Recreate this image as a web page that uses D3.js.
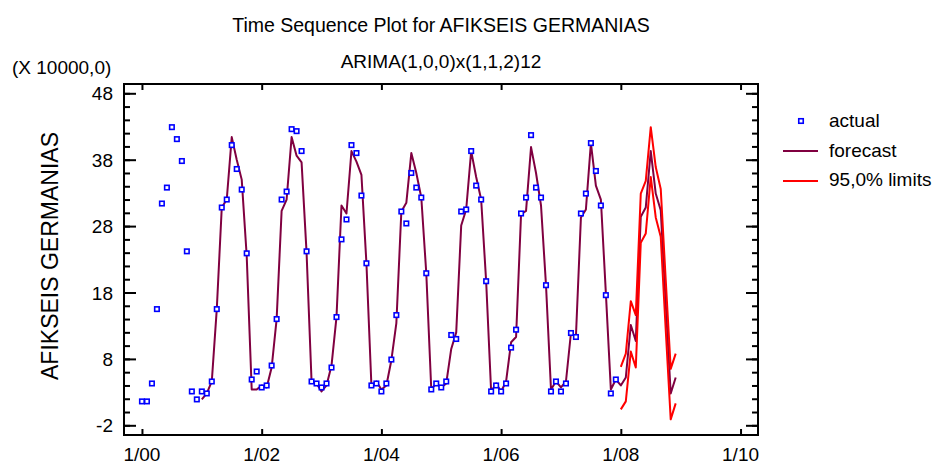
<!DOCTYPE html>
<html>
<head>
<meta charset="utf-8">
<script src="https://cdn.jsdelivr.net/npm/d3@7"></script>
<style>
body { margin: 0; background: #fff; }
svg { display: block; font-family: "Liberation Sans", Arial, sans-serif; }
</style>
</head>
<body>
<div class="chart-wrapper"></div>
<script>
// monthly values, index 0 = Jan 2000 (units of 10000)
const actual = [1.6, 1.6, 4.3, 15.5, 31.4, 33.8, 42.9, 41.1, 37.8, 24.2, 3.1, 1.9,
	3.1, 2.8, 4.6, 15.5, 30.8, 32.0, 40.2, 36.6, 33.5, 23.9, 4.9, 6.1,
	3.7, 4.0, 7.0, 14.0, 32.0, 33.2, 42.6, 42.3, 39.3, 24.2, 4.6, 4.3,
	3.7, 4.3, 6.7, 14.3, 26.0, 29.0, 40.2, 39.0, 32.6, 22.4, 4.0, 4.3,
	3.1, 4.3, 7.9, 14.6, 30.2, 28.4, 36.0, 33.8, 32.3, 20.9, 3.4, 4.3,
	3.7, 4.6, 11.6, 11.0, 30.2, 30.5, 39.3, 34.1, 32.0, 19.7, 3.1, 4.0,
	3.1, 4.3, 9.7, 12.4, 29.9, 32.3, 41.7, 33.8, 32.3, 19.1, 3.1, 4.6,
	3.1, 4.3, 11.9, 11.3, 29.9, 32.9, 40.5, 36.3, 31.1, 17.6, 2.8, 4.9];

const forecastStart = 12;
const forecast = [1.9, 2.8, 4.6, 15.5, 30.8, 32.0, 41.4, 38.0, 35.0, 23.5, 3.4, 3.4,
	4.0, 3.7, 6.7, 14.0, 30.3, 32.0, 41.4, 38.6, 37.6, 24.0, 4.6, 4.3,
	3.1, 4.0, 7.0, 14.3, 31.1, 29.9, 39.3, 37.7, 35.7, 22.4, 4.0, 4.6,
	3.4, 4.0, 7.8, 13.4, 30.2, 31.5, 39.0, 36.0, 32.3, 20.9, 3.4, 4.3,
	3.7, 4.3, 9.5, 12.0, 28.1, 30.5, 39.3, 35.4, 32.0, 19.7, 3.1, 4.3,
	3.1, 4.6, 10.5, 11.3, 29.8, 30.3, 39.9, 36.0, 31.1, 19.1, 3.4, 4.6,
	3.7, 4.6, 11.9, 11.4, 29.3, 30.5, 40.5, 34.1, 32.0, 17.9, 3.4, 4.9,
	4.0, 5.2, 13.1, 10.7, 29.4, 30.8, 39.3, 32.9, 30.4, 16.4, 2.8, 5.2];

const limitsStart = 96;
const upperLimit = [6.8, 8.8, 16.7, 14.6, 32.9, 34.8, 42.9, 36.9, 33.6, 19.9, 6.5, 8.8];
const lowerLimit = [0.4, 1.6, 9.1, 6.7, 25.5, 26.9, 35.4, 29.3, 26.4, 12.4, -1.1, 1.3];

const xTickMonths = [0, 24, 48, 72, 96, 120];
const xTickLabels = ['1/00', '1/02', '1/04', '1/06', '1/08', '1/10'];
const yTicks = [-2, 8, 18, 28, 38, 48];
const yMinorTicks = d3.range(-2, 49, 2);

const legendItems = ['actual', 'forecast', '95,0% limits'];

const width = 941;
const height = 467;

const blue = '#0000ff';
const maroon = '#800040';
const red = '#ff0000';

const x = d3.scaleLinear()
.domain([-3.6, 123.5])
.range([124, 758])

const y = d3.scaleLinear()
.domain([-3.46, 49.4])
.range([435, 84])

const svg = d3.select('.chart-wrapper')
.append('svg')
.attr('width', width)
.attr('height', height)

// titles
svg.append('text')
.attr('x', 441)
.attr('y', 32)
.attr('text-anchor', 'middle')
.style('font-size', '19.5px')
.text('Time Sequence Plot for AFIKSEIS GERMANIAS')

svg.append('text')
.attr('x', 441)
.attr('y', 68)
.attr('text-anchor', 'middle')
.style('font-size', '19px')
.text('ARIMA(1,0,0)x(1,1,2)12')

svg.append('text')
.attr('x', 12)
.attr('y', 74)
.style('font-size', '19px')
.text('(X 10000,0)')

svg.append('text')
.attr('transform', 'translate(58,256) rotate(-90)')
.attr('text-anchor', 'middle')
.style('font-size', '23px')
.text('AFIKSEIS GERMANIAS')

// axes: ticks point inwards on all four sides
const axes = svg.append('g');

axes.append('g')
.attr('transform', 'translate(' + x.range()[0] + ',0)')
.call(d3.axisRight(y).tickValues(yMinorTicks).tickSize(6).tickFormat(''))

axes.append('g')
.attr('transform', 'translate(' + x.range()[0] + ',0)')
.call(d3.axisRight(y).tickValues(yTicks).tickSize(12).tickFormat(''))

axes.append('g')
.attr('transform', 'translate(' + x.range()[1] + ',0)')
.call(d3.axisLeft(y).tickValues(yMinorTicks).tickSize(6).tickFormat(''))

axes.append('g')
.attr('transform', 'translate(' + x.range()[1] + ',0)')
.call(d3.axisLeft(y).tickValues(yTicks).tickSize(12).tickFormat(''))

axes.append('g')
.attr('transform', 'translate(0,' + y.range()[0] + ')')
.call(d3.axisTop(x).tickValues(xTickMonths).tickSize(6).tickFormat(''))

axes.append('g')
.attr('transform', 'translate(0,' + y.range()[1] + ')')
.call(d3.axisBottom(x).tickValues(xTickMonths).tickSize(6).tickFormat(''))

axes.selectAll('.domain').remove()
axes.selectAll('.tick line')
.attr('stroke', '#000')
.attr('stroke-width', 2)

// tick labels
svg.append('g')
.selectAll('text')
.data(yTicks)
.enter()
.append('text')
.attr('x', 113)
.attr('y', d => y(d) + 7)
.attr('text-anchor', 'end')
.style('font-size', '19px')
.text(d => d)

svg.append('g')
.selectAll('text')
.data(xTickMonths)
.enter()
.append('text')
.attr('x', d => x(d))
.attr('y', 461)
.attr('text-anchor', 'middle')
.style('font-size', '19px')
.text((d, i) => xTickLabels[i])

svg.append('rect')
.attr('x', x.range()[0])
.attr('y', y.range()[1])
.attr('width', x.range()[1] - x.range()[0])
.attr('height', y.range()[0] - y.range()[1])
.attr('fill', 'none')
.attr('stroke', '#000')
.attr('stroke-width', 2)

// series
const line = d3.line()
.x(d => x(d.m))
.y(d => y(d.v))

const toPoints = (arr, start) => arr.map((v, i) => ({ m: start + i, v: v }))

const plot = svg.append('g');

plot.append('path')
.datum(toPoints(forecast, forecastStart))
.attr('d', line)
.attr('fill', 'none')
.attr('stroke', maroon)
.attr('stroke-width', 2)
.attr('stroke-linejoin', 'round')

plot.selectAll('.limit')
.data([upperLimit, lowerLimit])
.enter()
.append('path')
.attr('class', 'limit')
.attr('d', d => line(toPoints(d, limitsStart)))
.attr('fill', 'none')
.attr('stroke', red)
.attr('stroke-width', 2)
.attr('stroke-linejoin', 'round')

plot.selectAll('.point')
.data(toPoints(actual, 0))
.enter()
.append('rect')
.attr('class', 'point')
.attr('x', d => x(d.m) - 2.25)
.attr('y', d => y(d.v) - 2.25)
.attr('width', 4.5)
.attr('height', 4.5)
.attr('fill', '#fff')
.attr('stroke', blue)
.attr('stroke-width', 1.6)

// legend
const legend = svg.append('g');

legend.append('rect')
.attr('x', 801 - 2.25)
.attr('y', 121 - 2.25)
.attr('width', 4.5)
.attr('height', 4.5)
.attr('fill', '#fff')
.attr('stroke', blue)
.attr('stroke-width', 1.6)

legend.selectAll('line')
.data([{ c: maroon, y: 151 }, { c: red, y: 181 }])
.enter()
.append('line')
.attr('x1', 783)
.attr('x2', 818)
.attr('y1', d => d.y)
.attr('y2', d => d.y)
.attr('stroke', d => d.c)
.attr('stroke-width', 2)

legend.selectAll('text')
.data(legendItems)
.enter()
.append('text')
.attr('x', 829)
.attr('y', (d, i) => 127 + i * 29.5)
.style('font-size', '19px')
.text(d => d)
</script>
</body>
</html>
